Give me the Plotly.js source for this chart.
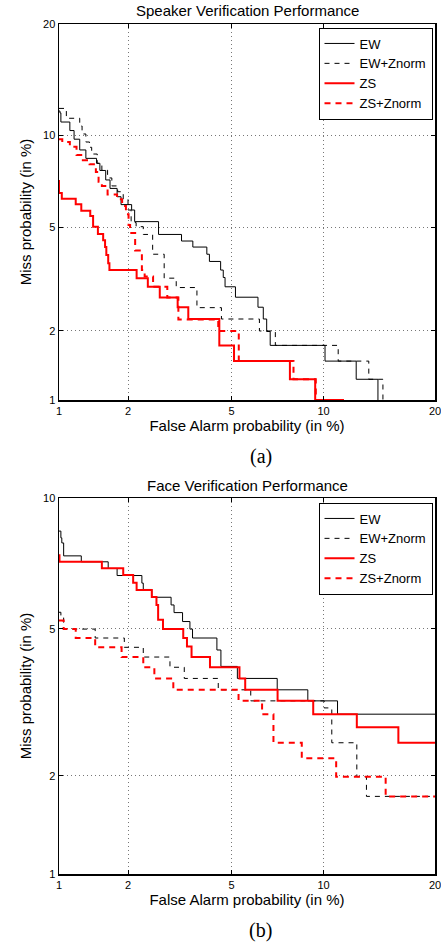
<!DOCTYPE html>
<html>
<head>
<meta charset="utf-8">
<script src="https://cdn.plot.ly/plotly-3.0.1.min.js"></script>
<style>html,body{margin:0;padding:0;background:#fff;}#chart{width:441px;height:942px;}</style>
</head>
<body>
<div id="chart"></div>
<script>
// ---- Data (percentages) ----
const tickVals = [1, 2, 5, 10, 20];
const tickText = ["1", "2", "5", "10", "20"];
const seriesNames = ["EW", "EW+Znorm", "ZS", "ZS+Znorm"];

// (a) Speaker verification
const spkEW_fa   = [1.0, 1.01, 1.02, 1.12, 1.17, 1.24, 1.32, 1.47, 1.52, 1.61, 1.68, 1.8, 1.87, 2.07, 2.13, 2.66, 3.27, 3.61, 4.07, 4.16, 4.57, 4.67, 4.74, 5.16, 6.17, 6.43, 6.6, 6.78, 10.1, 12.45, 14.3];
const spkEW_miss = [11.8, 11.65, 10.96, 10.34, 9.74, 9.03, 8.5, 8.2, 7.78, 7.25, 6.8, 6.38, 6.0, 5.75, 5.24, 4.72, 4.47, 4.25, 4.0, 3.76, 3.49, 3.27, 3.01, 2.74, 2.5, 2.24, 1.99, 1.74, 1.49, 1.24, 0.9];

const spkEWZ_fa   = [1.0, 1.08, 1.24, 1.27, 1.32, 1.37, 1.4, 1.48, 1.55, 1.64, 1.71, 1.81, 1.91, 2.0, 2.06, 2.16, 2.31, 2.52, 2.8, 3.12, 3.74, 4.6, 6.24, 7.05, 11.05, 13.5, 14.75];
const spkEWZ_miss = [12.0, 11.24, 10.67, 10.1, 9.55, 9.2, 8.77, 8.2, 7.8, 7.36, 6.93, 6.63, 6.25, 5.75, 5.2, 5.03, 4.72, 4.0, 3.25, 2.99, 2.49, 2.24, 2.0, 1.74, 1.49, 1.24, 0.9];

const spkZS_fa   = [1.0, 1.0, 1.03, 1.19, 1.26, 1.38, 1.42, 1.49, 1.57, 1.6, 1.62, 1.65, 1.67, 2.17, 2.41, 2.69, 3.16, 3.47, 4.52, 5.1, 7.86, 9.43, 11.4];
const spkZS_miss = [7.25, 6.57, 6.28, 6.02, 5.72, 5.48, 5.03, 4.74, 4.5, 4.25, 3.97, 3.7, 3.49, 3.25, 3.01, 2.73, 2.5, 2.24, 1.74, 1.49, 1.24, 1.0, 0.9];

const spkZSZ_fa   = [1.0, 1.035, 1.12, 1.2, 1.28, 1.37, 1.46, 1.5, 1.55, 1.64, 1.8, 1.89, 1.96, 2.01, 2.04, 2.14, 2.28, 2.34, 2.53, 2.88, 3.18, 4.48, 5.3, 8.07, 9.47, 11.4];
const spkZSZ_miss = [9.74, 9.55, 9.23, 8.71, 8.39, 8.14, 7.69, 7.15, 6.93, 6.49, 6.25, 5.93, 5.56, 5.1, 4.78, 4.13, 3.49, 3.3, 3.01, 2.73, 2.23, 2.0, 1.49, 1.24, 1.0, 0.9];

// (b) Face verification
const faceEW_fa   = [1.0, 1.02, 1.03, 1.05, 1.26, 1.65, 1.8, 2.28, 2.31, 2.5, 2.98, 3.06, 3.3, 3.52, 3.6, 4.43, 4.58, 5.24, 7.15, 8.95, 11.0, 20];
const faceEW_miss = [8.48, 8.19, 7.98, 7.46, 7.23, 6.98, 6.72, 6.45, 6.23, 5.97, 5.72, 5.48, 5.21, 4.99, 4.74, 4.42, 4.01, 3.73, 3.48, 3.25, 2.99, 2.99];

const faceEWZ_fa   = [1.0, 1.02, 1.05, 1.45, 1.93, 2.31, 2.95, 3.35, 4.48, 5.83, 10.04, 10.58, 12.5, 13.3, 20];
const faceEWZ_miss = [5.49, 5.36, 4.99, 4.74, 4.49, 4.24, 3.99, 3.73, 3.48, 3.25, 3.11, 2.49, 1.99, 1.74, 1.74];

const faceZS_fa   = [1.0, 1.005, 1.55, 1.91, 2.1, 2.17, 2.5, 2.61, 2.65, 2.77, 3.32, 3.43, 3.57, 4.18, 5.33, 5.58, 7.17, 9.3, 12.5, 16.2, 20];
const faceZS_miss = [7.48, 7.23, 6.99, 6.74, 6.46, 6.21, 5.98, 5.72, 5.26, 4.99, 4.74, 4.51, 4.24, 3.99, 3.73, 3.48, 3.25, 2.99, 2.75, 2.49, 2.49];

const faceZSZ_fa   = [1.0, 1.05, 1.19, 1.45, 1.88, 2.31, 2.56, 3.04, 5.29, 6.37, 6.95, 8.57, 10.9, 15.0, 20];
const faceZSZ_miss = [5.24, 4.99, 4.74, 4.49, 4.24, 3.99, 3.73, 3.48, 3.25, 2.99, 2.49, 2.25, 1.99, 1.74, 1.74];

// ---- Normal deviate (DET) scale ----
function probit(p) {
  const a = [-3.969683028665376e+01, 2.209460984245205e+02, -2.759285104469687e+02, 1.383577518672690e+02, -3.066479806614716e+01, 2.506628277459239e+00];
  const b = [-5.447609879822406e+01, 1.615858368580409e+02, -1.556989798598866e+02, 6.680131188771972e+01, -1.328068155288572e+01];
  const c = [-7.784894002430293e-03, -3.223964580411365e-01, -2.400758277161838e+00, -2.549732539343734e+00, 4.374664141464968e+00, 2.938163982698783e+00];
  const d = [7.784695709041462e-03, 3.224671290700398e-01, 2.445134137142996e+00, 3.754408661907416e+00];
  const pl = 0.02425, ph = 1 - pl;
  let q, r;
  if (p < pl) {
    q = Math.sqrt(-2 * Math.log(p));
    return (((((c[0]*q+c[1])*q+c[2])*q+c[3])*q+c[4])*q+c[5]) / ((((d[0]*q+d[1])*q+d[2])*q+d[3])*q+1);
  } else if (p <= ph) {
    q = p - 0.5; r = q * q;
    return (((((a[0]*r+a[1])*r+a[2])*r+a[3])*r+a[4])*r+a[5])*q / (((((b[0]*r+b[1])*r+b[2])*r+b[3])*r+b[4])*r+1);
  } else {
    q = Math.sqrt(-2 * Math.log(1 - p));
    return -(((((c[0]*q+c[1])*q+c[2])*q+c[3])*q+c[4])*q+c[5]) / ((((d[0]*q+d[1])*q+d[2])*q+d[3])*q+1);
  }
}
const nd = arr => arr.map(v => probit(v / 100));

const styles = [
  {color: "#000000", width: 1, dash: "solid"},
  {color: "#000000", width: 1, dash: "5px,5px"},
  {color: "#ff0000", width: 2, dash: "solid"},
  {color: "#ff0000", width: 2, dash: "6px,5px"}
];

const spk = [[spkEW_fa, spkEW_miss], [spkEWZ_fa, spkEWZ_miss], [spkZS_fa, spkZS_miss], [spkZSZ_fa, spkZSZ_miss]];
const face = [[faceEW_fa, faceEW_miss], [faceEWZ_fa, faceEWZ_miss], [faceZS_fa, faceZS_miss], [faceZSZ_fa, faceZSZ_miss]];

const traces = [];
spk.forEach((s, i) => traces.push({
  x: nd(s[0]), y: nd(s[1]), type: "scatter", mode: "lines", name: seriesNames[i],
  line: Object.assign({shape: "hv"}, styles[i]), xaxis: "x", yaxis: "y", legend: "legend", hoverinfo: "skip"
}));
face.forEach((s, i) => traces.push({
  x: nd(s[0]), y: nd(s[1]), type: "scatter", mode: "lines", name: seriesNames[i],
  line: Object.assign({shape: "hv"}, styles[i]), xaxis: "x2", yaxis: "y2", legend: "legend2", hoverinfo: "skip"
}));

const FONT = "Liberation Sans, Arial, Helvetica, sans-serif";
const tickFont = {family: FONT, size: 11, color: "#000"};
const titleFont = {family: FONT, size: 15, color: "#000"};
const EPS = 1e-6;

function axisBase(vals, range) {
  return {
    range: [probit(range[0] / 100) - EPS, probit(range[1] / 100) + EPS],
    tickmode: "array",
    tickvals: nd(vals),
    ticktext: vals.map(v => tickText[tickVals.indexOf(v)]),
    ticks: "inside", ticklen: 4, tickcolor: "#000", tickwidth: 1,
    ticklabeloverflow: "allow",
    showline: true, linecolor: "#000", linewidth: 1.5, mirror: "ticks",
    showgrid: true, gridcolor: "#777", gridwidth: 1, griddash: "1px,3px",
    zeroline: false, tickfont: tickFont, fixedrange: true
  };
}

const H = 942, T = 24, B = 68, PH = H - T - B; // plot region height in px
const py = y => (H - B - y) / PH;                 // page pixel -> paper y

const layout = {
  width: 441, height: 942,
  margin: {l: 59, r: 6, t: T, b: B},
  paper_bgcolor: "#fff", plot_bgcolor: "#fff",
  showlegend: true,
  xaxis: Object.assign(axisBase([1, 2, 5, 10, 20], [1, 20]), {
    domain: [0, 1], anchor: "y",
    title: {text: "False Alarm probability (in %)", font: titleFont, standoff: 4}
  }),
  yaxis: Object.assign(axisBase([1, 2, 5, 10, 20], [1, 20]), {
    domain: [py(400), 1], anchor: "x",
    title: {text: "Miss probability (in %)", font: titleFont, standoff: 8}
  }),
  xaxis2: Object.assign(axisBase([1, 2, 5, 10, 20], [1, 20]), {
    domain: [0, 1], anchor: "y2",
    title: {text: "False Alarm probability (in %)", font: titleFont, standoff: 4}
  }),
  yaxis2: Object.assign(axisBase([1, 2, 5, 10], [1, 10]), {
    domain: [0, py(498)], anchor: "x2",
    title: {text: "Miss probability (in %)", font: titleFont, standoff: 8}
  }),
  legend: {
    x: (432.5 - 59) / 376, xanchor: "right", y: py(27.5), yanchor: "top",
    bgcolor: "#fff", bordercolor: "#000", borderwidth: 1,
    font: {family: FONT, size: 13, color: "#000"}, tracegroupgap: 0
  },
  legend2: {
    x: (432.5 - 59) / 376, xanchor: "right", y: py(502.5), yanchor: "top",
    bgcolor: "#fff", bordercolor: "#000", borderwidth: 1,
    font: {family: FONT, size: 13, color: "#000"}, tracegroupgap: 0
  },
  annotations: [
    {text: "Speaker Verification Performance", xref: "paper", yref: "paper", x: 0.5, y: py(10.5),
     xanchor: "center", yanchor: "middle", showarrow: false, font: titleFont},
    {text: "Face Verification Performance", xref: "paper", yref: "paper", x: 0.5, y: py(485.5),
     xanchor: "center", yanchor: "middle", showarrow: false, font: titleFont},
    {text: "(a)", xref: "paper", yref: "paper", x: (260.5 - 59) / 376, y: py(456),
     xanchor: "center", yanchor: "middle", showarrow: false,
     font: {family: "Liberation Serif, Times New Roman, serif", size: 20, color: "#000"}},
    {text: "(b)", xref: "paper", yref: "paper", x: (260.5 - 59) / 376, y: py(930),
     xanchor: "center", yanchor: "middle", showarrow: false,
     font: {family: "Liberation Serif, Times New Roman, serif", size: 20, color: "#000"}}
  ]
};

Plotly.newPlot("chart", traces, layout, {displayModeBar: false, staticPlot: true});
</script>
</body>
</html>
